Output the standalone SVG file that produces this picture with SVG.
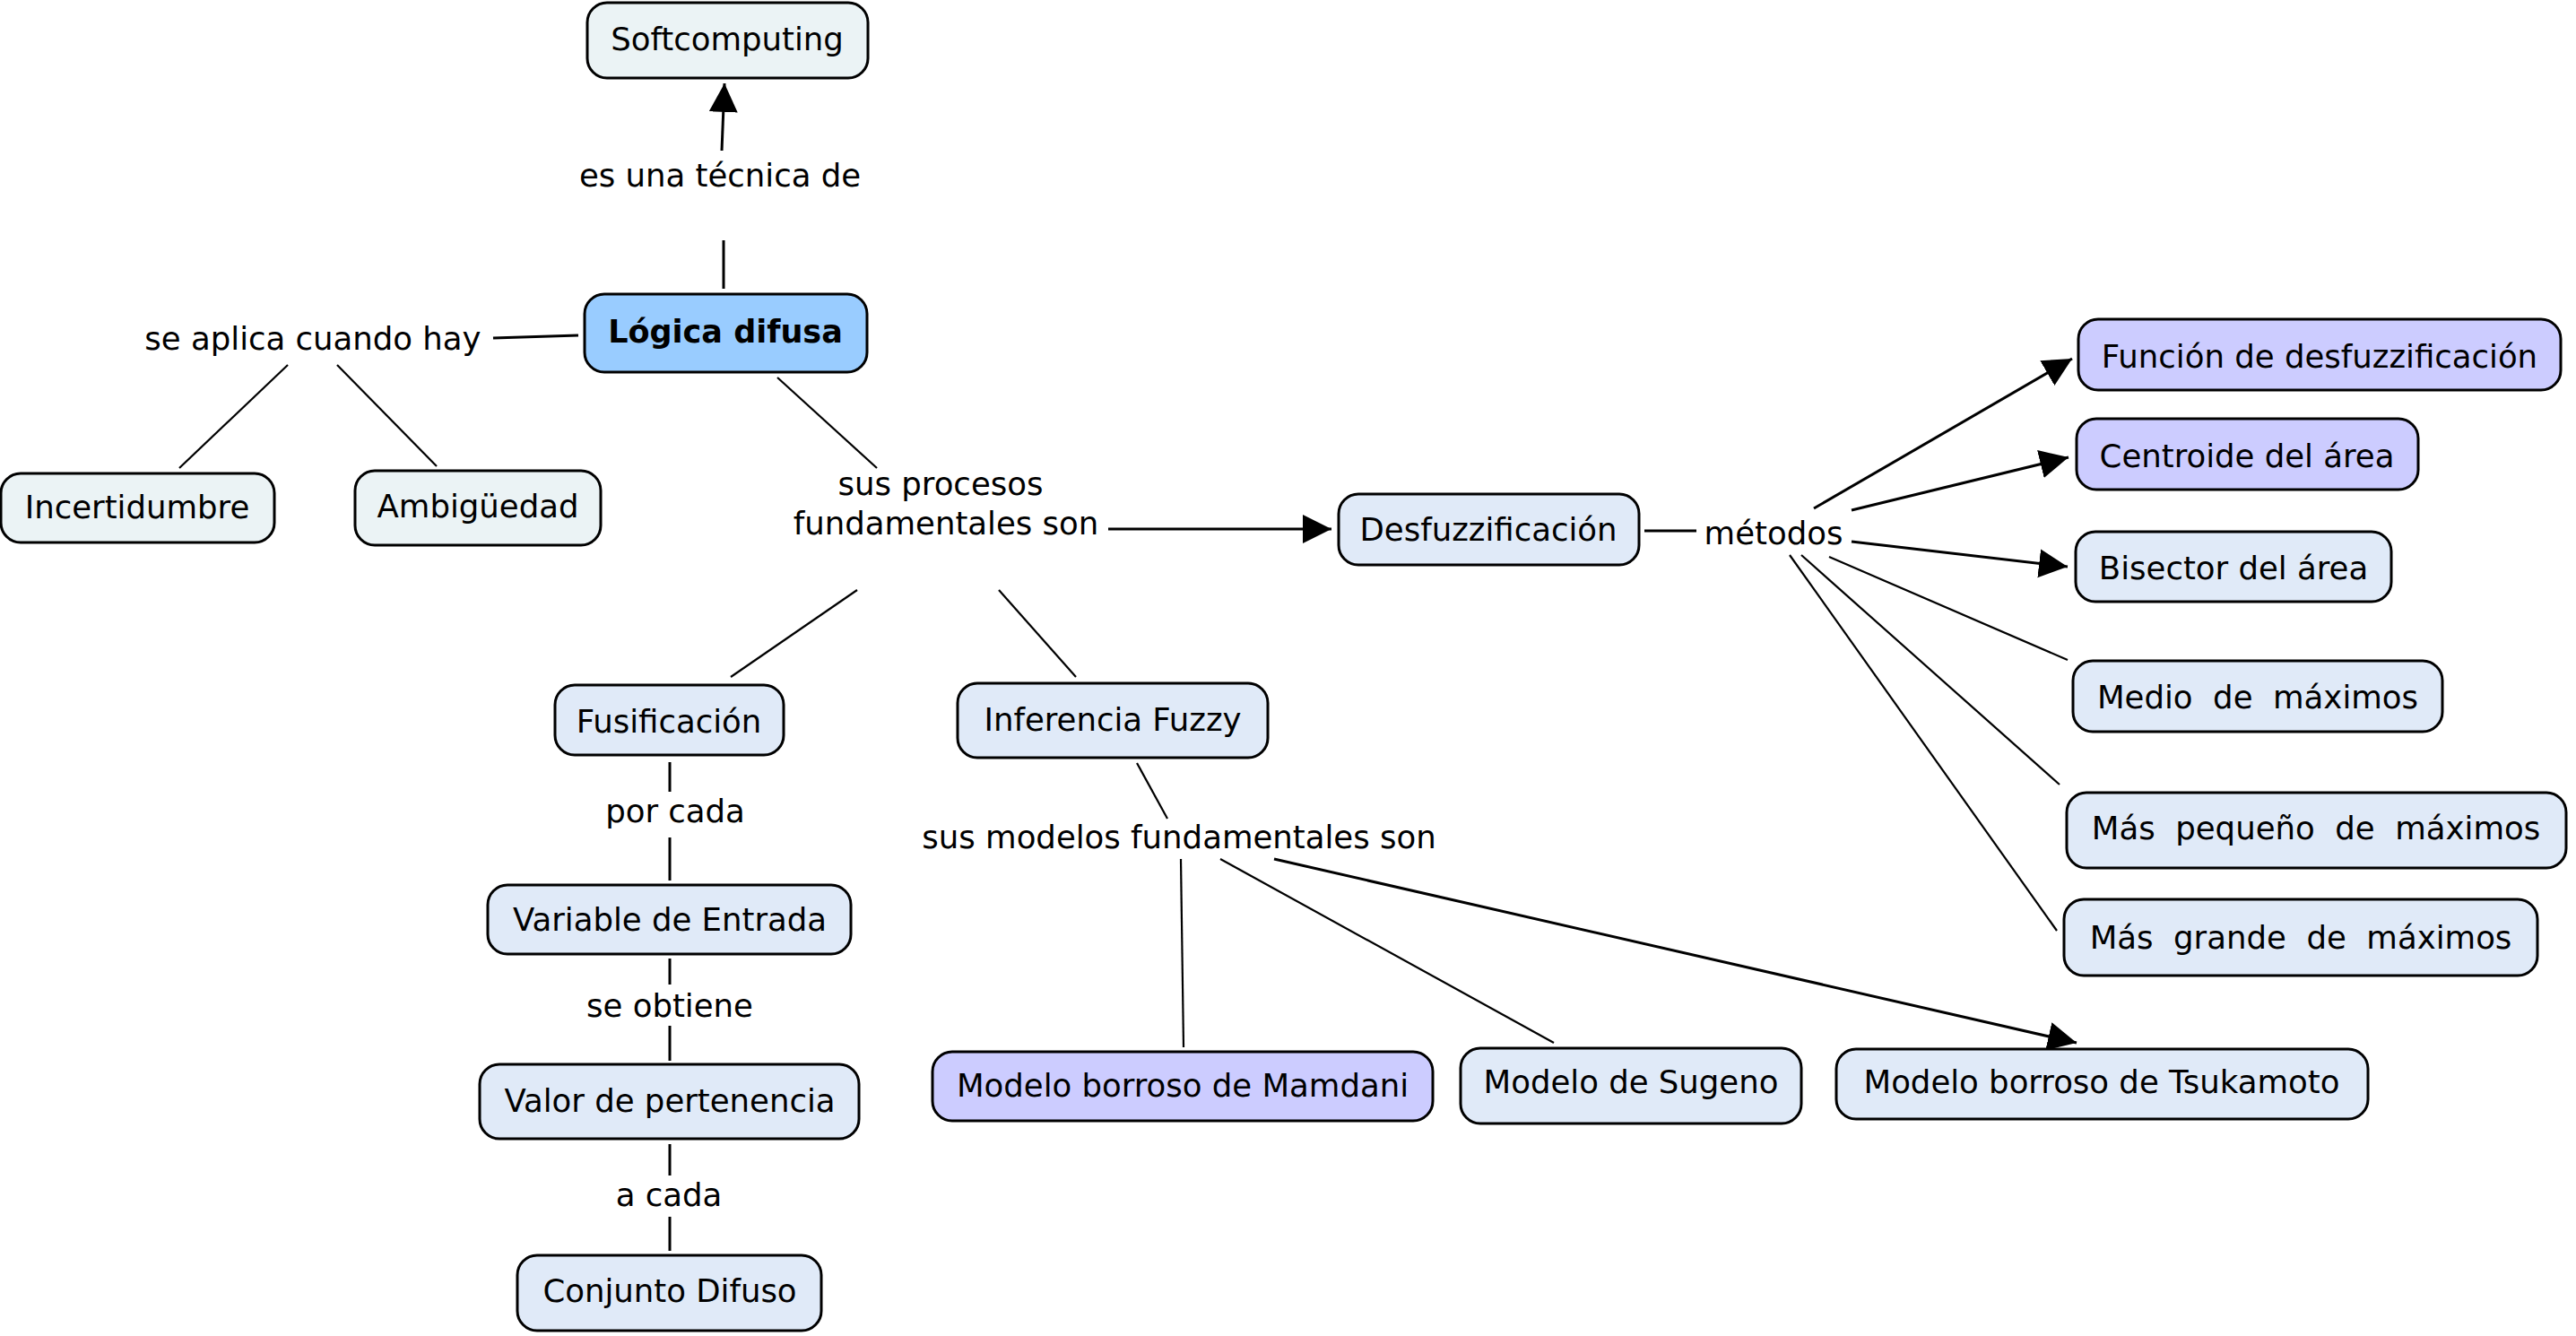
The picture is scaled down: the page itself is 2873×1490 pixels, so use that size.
<svg xmlns="http://www.w3.org/2000/svg" width="2873" height="1490" viewBox="0 0 2873 1490">
  <defs>
    <style>
      .node rect { stroke: #000; stroke-width: 3; }
      .pale { fill: #EBF3F5; }
      .blue { fill: #E0EAF8; }
      .lav { fill: #CCCCFF; }
      .main { fill: #99CCFF; }
      text { font-family: "DejaVu Sans", Verdana, sans-serif; font-size: 35.5px; fill: #000; text-anchor: middle; white-space: pre; }
      .bold { font-weight: bold; font-size: 35px; }
      #connectors line { stroke: #000; stroke-width: 3; fill: none; }
      #connectors line.thin { stroke-width: 2.2; }
      #connectors line.arrow { marker-end: url(#head); }
    </style>
    <marker id="head" markerUnits="userSpaceOnUse" markerWidth="34" markerHeight="34" refX="32" refY="16" orient="auto">
      <path d="M0,0 L32,16 L0,32 Z" fill="#000"/>
    </marker>
  </defs>
  <rect width="2873" height="1490" fill="#fff"/>

  <!-- connectors and linking phrases -->
  <g id="connectors">
    <line x1="807" y1="322" x2="807" y2="268"/>
    <line class="arrow" x1="805" y1="168" x2="808" y2="93"/>
    <line x1="645" y1="374" x2="550" y2="377"/>
    <line class="thin" x1="321" y1="407" x2="200" y2="522"/>
    <line class="thin" x1="376" y1="407" x2="487" y2="520"/>
    <line class="thin" x1="867" y1="421" x2="978" y2="522"/>
    <line class="arrow" x1="1236" y1="590" x2="1485" y2="590"/>
    <line class="thin" x1="956" y1="658" x2="815" y2="755"/>
    <line class="thin" x1="1114" y1="658" x2="1200" y2="755"/>
    <line x1="747" y1="850" x2="747" y2="883"/>
    <line x1="747" y1="934" x2="747" y2="982"/>
    <line x1="747" y1="1069" x2="747" y2="1098"/>
    <line x1="747" y1="1144" x2="747" y2="1183"/>
    <line x1="747" y1="1276" x2="747" y2="1311"/>
    <line x1="747" y1="1357" x2="747" y2="1395"/>
    <line class="thin" x1="1268" y1="851" x2="1302" y2="913"/>
    <line class="thin" x1="1317" y1="958" x2="1320" y2="1168"/>
    <line class="thin" x1="1361" y1="958" x2="1733" y2="1163"/>
    <line class="arrow" x1="1421" y1="958" x2="2316" y2="1163"/>
    <line x1="1834" y1="592" x2="1892" y2="592"/>
    <line class="arrow" x1="2023" y1="567" x2="2311" y2="400"/>
    <line class="arrow" x1="2065" y1="569" x2="2307" y2="510"/>
    <line class="arrow" x1="2065" y1="604" x2="2306" y2="632"/>
    <line class="thin" x1="2040" y1="621" x2="2306" y2="736"/>
    <line class="thin" x1="2009" y1="619" x2="2297" y2="875"/>
    <line class="thin" x1="1996" y1="619" x2="2294" y2="1038"/>

    <text x="803" y="208">es una técnica de</text>
    <text x="349" y="390">se aplica cuando hay</text>
    <text x="1049" y="552">sus procesos</text>
    <text x="1055" y="596">fundamentales son</text>
    <text x="1978" y="607">métodos</text>
    <text x="753" y="917">por cada</text>
    <text x="747" y="1134">se obtiene</text>
    <text x="746" y="1345">a cada</text>
    <text x="1315" y="946">sus modelos fundamentales son</text>
  </g>

  <!-- concepts -->
  <g id="softcomputing" class="node"><rect class="pale" x="655" y="3" width="313" height="84" rx="22"/><text x="811" y="56">Softcomputing</text></g>
  <g id="logica-difusa" class="node"><rect class="main" x="652" y="328" width="315" height="87" rx="22"/><text class="bold" x="809" y="382">Lógica difusa</text></g>
  <g id="incertidumbre" class="node"><rect class="pale" x="1" y="528" width="305" height="77" rx="22"/><text x="153" y="578">Incertidumbre</text></g>
  <g id="ambiguedad" class="node"><rect class="pale" x="396" y="525" width="274" height="83" rx="22"/><text x="533" y="577">Ambigüedad</text></g>
  <g id="desfuzzificacion" class="node"><rect class="blue" x="1493" y="551" width="335" height="79" rx="22"/><text x="1660" y="603">Desfuzzificación</text></g>
  <g id="fusificacion" class="node"><rect class="blue" x="619" y="764" width="255" height="78" rx="22"/><text x="746" y="817">Fusificación</text></g>
  <g id="inferencia" class="node"><rect class="blue" x="1068" y="762" width="346" height="83" rx="22"/><text x="1241" y="815">Inferencia Fuzzy</text></g>
  <g id="variable-entrada" class="node"><rect class="blue" x="544" y="987" width="405" height="77" rx="22"/><text x="747" y="1038">Variable de Entrada</text></g>
  <g id="valor-pertenencia" class="node"><rect class="blue" x="535" y="1187" width="423" height="83" rx="22"/><text x="747" y="1240">Valor de pertenencia</text></g>
  <g id="conjunto-difuso" class="node"><rect class="blue" x="577" y="1400" width="339" height="84" rx="22"/><text x="747" y="1452">Conjunto Difuso</text></g>
  <g id="mamdani" class="node"><rect class="lav" x="1040" y="1173" width="558" height="77" rx="22"/><text x="1319" y="1223">Modelo borroso de Mamdani</text></g>
  <g id="sugeno" class="node"><rect class="blue" x="1629" y="1169" width="380" height="84" rx="22"/><text x="1819" y="1219">Modelo de Sugeno</text></g>
  <g id="tsukamoto" class="node"><rect class="blue" x="2048" y="1170" width="593" height="78" rx="22"/><text x="2344" y="1219">Modelo borroso de Tsukamoto</text></g>
  <g id="funcion" class="node"><rect class="lav" x="2318" y="356" width="538" height="79" rx="22"/><text x="2587" y="410">Función de desfuzzificación</text></g>
  <g id="centroide" class="node"><rect class="lav" x="2316" y="467" width="381" height="79" rx="22"/><text x="2506" y="521">Centroide del área</text></g>
  <g id="bisector" class="node"><rect class="blue" x="2315" y="593" width="352" height="78" rx="22"/><text x="2491" y="646">Bisector del área</text></g>
  <g id="medio" class="node"><rect class="blue" x="2312" y="737" width="412" height="79" rx="22"/><text x="2518" y="790">Medio  de  máximos</text></g>
  <g id="mas-pequeno" class="node"><rect class="blue" x="2305" y="884" width="557" height="84" rx="22"/><text x="2583" y="936">Más  pequeño  de  máximos</text></g>
  <g id="mas-grande" class="node"><rect class="blue" x="2302" y="1003" width="528" height="85" rx="22"/><text x="2566" y="1058">Más  grande  de  máximos</text></g>
</svg>
